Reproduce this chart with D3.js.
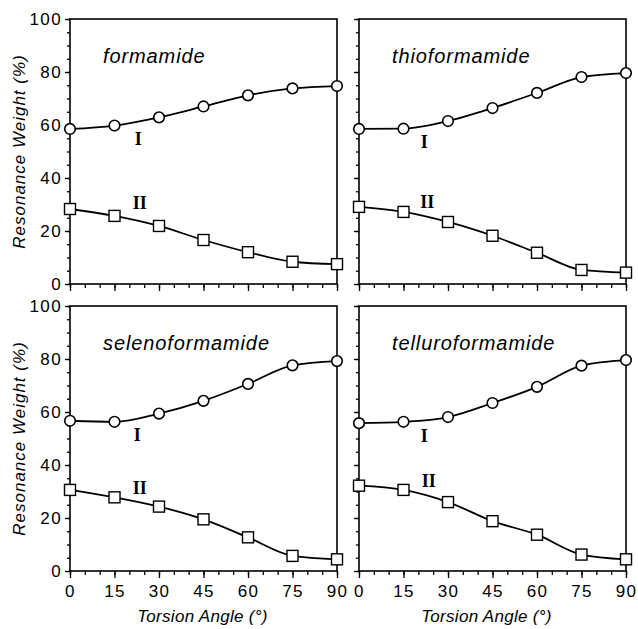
<!DOCTYPE html>
<html>
<head>
<meta charset="utf-8">
<script src="https://cdn.jsdelivr.net/npm/d3@7"></script>
<style>
  body { margin: 0; background: #fff; }
  svg { display: block; }
  text { fill: #000; }
</style>
</head>
<body>
<div id="chart"></div>
<script>
// torsion angles (deg) and resonance weights (%) of structures I and II
const angles = [0, 15, 30, 45, 60, 75, 90];
const molecules = ["formamide", "thioformamide", "selenoformamide", "telluroformamide"];

const formamideI = [58.5, 59.8, 62.9, 67.0, 71.2, 73.8, 74.7];
const formamideII = [28.3, 25.7, 21.9, 16.6, 12.0, 8.4, 7.5];
const thioI = [58.5, 58.6, 61.5, 66.4, 72.1, 78.1, 79.6];
const thioII = [29.1, 27.2, 23.4, 18.2, 11.8, 5.3, 4.3];
const selenoI = [56.7, 56.3, 59.4, 64.2, 70.6, 77.6, 79.2];
const selenoII = [30.6, 27.8, 24.3, 19.5, 12.7, 5.7, 4.4];
const telluroI = [55.8, 56.3, 58.1, 63.4, 69.5, 77.5, 79.6];
const telluroII = [32.2, 30.6, 26.0, 18.8, 13.7, 6.2, 4.4];

const seriesI = [formamideI, thioI, selenoI, telluroI];
const seriesII = [formamideII, thioII, selenoII, telluroII];

const xTicks = [0, 15, 30, 45, 60, 75, 90];
const yTicks = [0, 20, 40, 60, 80, 100];

// where the I / II tags sit, in data units [angle, weight]
const tagI = [[23, 55], [22, 53.7], [22.7, 51.6], [22, 50.9]];
const tagII = [[23.5, 30.6], [23, 31.2], [23.5, 31.4], [23.5, 34.2]];

const W = 638, H = 629;
const pw = 267, ph = 265;
const origins = [[70, 19], [359, 19], [70, 306], [359, 306]];

const svg = d3.select("#chart").append("svg")
  .attr("width", W)
  .attr("height", H);

const x = d3.scaleLinear().domain([0, 90]).range([0, pw]);
const y = d3.scaleLinear().domain([0, 100]).range([ph, 0]);

const line = d3.line()
  .x((d, i) => x(angles[i]))
  .y(d => y(d))
  .curve(d3.curveMonotoneX);

const sans = "'Liberation Sans', Arial, Helvetica, sans-serif";

molecules.forEach((name, k) => {
  const [ox, oy] = origins[k];
  const g = svg.append("g").attr("transform", `translate(${ox},${oy})`);
  const bottomRow = k >= 2;
  const leftCol = k % 2 === 0;

  // minor ticks
  g.append("g")
    .attr("transform", `translate(0,${ph})`)
    .call(d3.axisBottom(x).tickValues(d3.range(0, 91, 5)).tickSize(4).tickFormat(""))
    .call(a => a.select(".domain").remove());
  g.append("g")
    .call(d3.axisLeft(y).tickValues(d3.range(0, 101, 5)).tickSize(3).tickFormat(""))
    .call(a => a.select(".domain").remove());

  // major ticks
  const xAxis = g.append("g")
    .attr("transform", `translate(0,${ph})`)
    .call(d3.axisBottom(x).tickValues(xTicks).tickSize(7).tickPadding(7)
      .tickFormat(bottomRow ? d3.format("d") : ""));
  const yAxis = g.append("g")
    .call(d3.axisLeft(y).tickValues(yTicks).tickSize(5).tickPadding(3)
      .tickFormat(leftCol ? d3.format("d") : ""));

  [xAxis, yAxis].forEach(a => {
    a.select(".domain").remove();
    a.selectAll("text")
      .style("font-family", sans)
      .style("font-size", "17px")
      .style("letter-spacing", "1.4px")
      .attr("fill", "#000");
  });
  g.selectAll("line").attr("stroke", "#000").attr("stroke-width", 1.3);

  // frame
  g.append("rect")
    .attr("width", pw).attr("height", ph)
    .attr("fill", "none")
    .attr("stroke", "#000")
    .attr("stroke-width", 1.6);

  g.append("text")
    .attr("x", 33).attr("y", 44)
    .style("font-family", sans)
    .style("font-style", "italic")
    .style("font-size", "20px")
    .style("letter-spacing", "0.9px")
    .text(name);

  [seriesI[k], seriesII[k]].forEach(s => {
    g.append("path")
      .datum(s)
      .attr("fill", "none")
      .attr("stroke", "#000")
      .attr("stroke-width", 1.8)
      .attr("d", line);
  });

  g.selectAll("circle").data(seriesI[k]).enter().append("circle")
    .attr("cx", (d, i) => x(angles[i]))
    .attr("cy", d => y(d))
    .attr("r", 5.3)
    .attr("fill", "#fff")
    .attr("stroke", "#000")
    .attr("stroke-width", 1.6);

  g.selectAll("rect.sq").data(seriesII[k]).enter().append("rect")
    .attr("class", "sq")
    .attr("x", (d, i) => x(angles[i]) - 5.5)
    .attr("y", d => y(d) - 5.5)
    .attr("width", 11).attr("height", 11)
    .attr("fill", "#fff")
    .attr("stroke", "#000")
    .attr("stroke-width", 1.4);

  [[tagI[k], "I"], [tagII[k], "II"]].forEach(([p, t]) => {
    g.append("text")
      .attr("x", x(p[0])).attr("y", y(p[1]))
      .attr("dy", "0.35em")
      .attr("text-anchor", "middle")
      .style("font-family", "'Liberation Serif', 'Times New Roman', serif")
      .style("font-weight", "bold")
      .style("font-size", "18px")
      .text(t);
  });

  if (leftCol) {
    g.append("text")
      .attr("transform", `translate(-45,${ph / 2}) rotate(-90)`)
      .attr("text-anchor", "middle")
      .style("font-family", sans)
      .style("font-style", "italic")
      .style("font-size", "17px")
      .style("letter-spacing", "1px")
      .text("Resonance Weight  (%)");
  }
  if (bottomRow) {
    g.append("text")
      .attr("x", pw / 2 - (leftCol ? 1 : 6)).attr("y", ph + 51)
      .attr("text-anchor", "middle")
      .style("font-family", sans)
      .style("font-style", "italic")
      .style("font-size", "17px")
      .style("letter-spacing", "0.3px")
      .text("Torsion Angle (°)");
  }
});
</script>
</body>
</html>
